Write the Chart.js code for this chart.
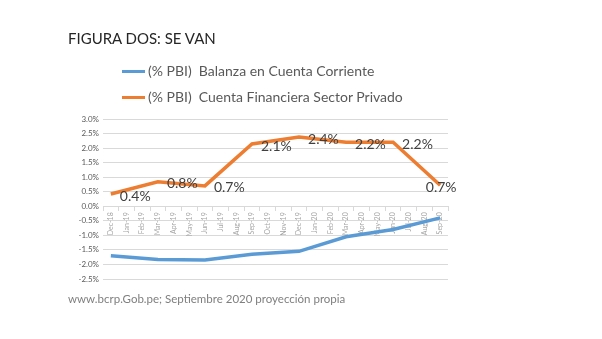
<!DOCTYPE html>
<html>
<head>
<meta charset="utf-8">
<script src="https://cdn.jsdelivr.net/npm/chart.js@4.4.0/dist/chart.umd.min.js"></script>
<style>
  body { margin: 0; background: #fff; font-family: Lato, "Open Sans", sans-serif; }
  #wrap { position: relative; width: 602px; height: 339px; overflow: hidden; }
  #title { position: absolute; left: 68px; top: 29px; font-size: 15px; color: #262626; }
  .leg { position: absolute; left: 122px; font-size: 14px; color: #595959; white-space: pre; line-height: 16px; }
  .leg span.ln { display: inline-block; width: 23px; height: 3px; vertical-align: middle; margin-right: 3px; position: relative; top: -1px; }
  #source { position: absolute; left: 68px; top: 292px; font-size: 11.5px; color: #7f7f7f; }
  #c { position: absolute; left: 0; top: 0; }
</style>
</head>
<body>
<div id="wrap">
  <canvas id="c" width="602" height="339"></canvas>
  <div id="title">FIGURA DOS: SE VAN</div>
  <div id="legend"></div>
  <div id="source">www.bcrp.Gob.pe; Septiembre 2020 proyección propia</div>
</div>
<script>
// months, Dec-18 .. Sep-20 (quarterly figures, other months left empty)
var months = ['Dec-18','Jan-19','Feb-19','Mar-19','Apr-19','May-19','Jun-19','Jul-19','Aug-19','Sep-19','Oct-19','Nov-19',
  'Dec-19','Jan-20','Feb-20','Mar-20','Apr-20','May-20','Jun-20','Jul-20','Aug-20','Sep-20'];
var balanzaCC = [-1.70,null,null,-1.83,null,null,-1.85,null,null,-1.65,null,null,
  -1.55,null,null,-1.05,null,null,-0.80,null,null,-0.40];
var cuentaFin = [0.42,null,null,0.84,null,null,0.70,null,null,2.14,null,null,
  2.38,null,null,2.20,null,null,2.20,null,null,0.72];
var seriesNames = ['(% PBI)  Balanza en Cuenta Corriente', '(% PBI)  Cuenta Financiera Sector Privado'];
var seriesColors = ['#5b9bd5', '#ed7d31'];
var yMin = -2.5, yMax = 3.0, yStep = 0.25;

// legend as html rows
var legendDiv = document.getElementById('legend');
var legendTops = [63, 89];
for (var i = 0; i < seriesNames.length; i++) {
  var row = document.createElement('div');
  row.className = 'leg';
  row.style.top = legendTops[i] + 'px';
  row.innerHTML = '<span class="ln" style="background:' + seriesColors[i] + '"></span>' + seriesNames[i];
  legendDiv.appendChild(row);
}

// value labels on the orange line
var pointLabels = {
  id: 'pointLabels',
  afterDatasetsDraw: function(chart) {
    var ctx = chart.ctx;
    var meta = chart.getDatasetMeta(1);
    var data = chart.data.datasets[1].data;
    ctx.save();
    ctx.font = '14px Lato, "Open Sans", sans-serif';
    ctx.fillStyle = '#404040';
    ctx.textBaseline = 'middle';
    for (var i = 0; i < data.length; i++) {
      if (data[i] === null) continue;
      var pt = meta.data[i];
      var txt = data[i].toFixed(1) + '%';
      if (i === data.length - 1) {
        ctx.textAlign = 'center';
        ctx.fillText(txt, pt.x + 1, pt.y + 2);
      } else {
        ctx.textAlign = 'left';
        ctx.fillText(txt, pt.x + 9, pt.y + 2);
      }
    }
    ctx.restore();
  }
};

new Chart(document.getElementById('c'), {
  type: 'line',
  data: {
    labels: months,
    datasets: [{
      label: seriesNames[0],
      data: balanzaCC,
      borderColor: seriesColors[0],
      borderWidth: 3.5,
      pointRadius: 0,
      spanGaps: true,
      tension: 0
    }, {
      label: seriesNames[1],
      data: cuentaFin,
      borderColor: seriesColors[1],
      borderWidth: 3.5,
      pointRadius: 0,
      spanGaps: true,
      tension: 0
    }]
  },
  options: {
    responsive: false,
    animation: false,
    layout: { padding: { left: 60, top: 119, right: 154, bottom: 60 } },
    plugins: { legend: { display: false }, tooltip: { enabled: false } },
    scales: {
      x: {
        position: { y: 0 },
        offset: true,
        grid: { display: true, drawOnChartArea: false, drawTicks: true, tickLength: 4, color: '#d9d9d9', offset: true },
        border: { display: true, color: '#d9d9d9' },
        ticks: {
          autoSkip: false, maxRotation: 90, minRotation: 90, padding: 2,
          color: '#a6a6a6', font: { size: 7, family: 'Lato' }
        }
      },
      y: {
        min: yMin, max: yMax,
        afterFit: function(scale) { scale.width = 43; },
        grid: {
          drawTicks: false,
          color: function(c) {
            var v = c.tick.value;
            return Math.abs(v * 2 - Math.round(v * 2)) < 0.001 ? '#d9d9d9' : '#f0f0f0';
          }
        },
        border: { display: false },
        ticks: {
          stepSize: yStep, padding: 4,
          color: '#595959', font: { size: 8, family: 'Lato' },
          callback: function(v) {
            if (Math.abs(v * 2 - Math.round(v * 2)) > 0.001) return '';
            return v.toFixed(1) + '%';
          }
        }
      }
    }
  },
  plugins: [pointLabels]
});
</script>
</body>
</html>
